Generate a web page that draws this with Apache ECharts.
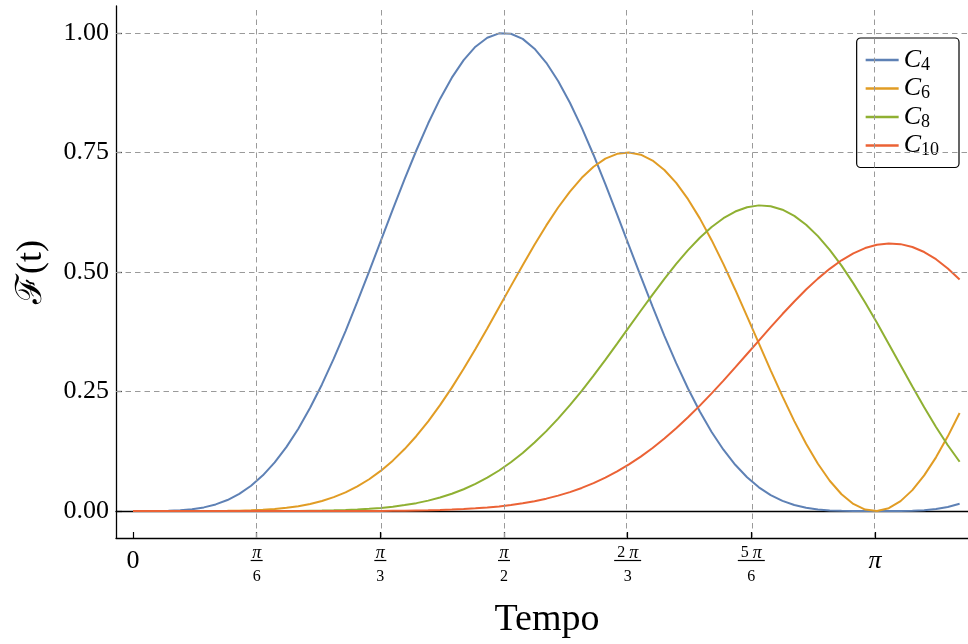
<!DOCTYPE html>
<html>
<head>
<meta charset="utf-8">
<script src="https://cdn.jsdelivr.net/npm/echarts@6/dist/echarts.min.js"></script>
<style>
  html, body { margin: 0; padding: 0; background: #fff; }
  #main { width: 968px; height: 644px; }
</style>
</head>
<body>
<div id="main"></div>
<script>
var chartDom = document.getElementById('main');
var myChart = echarts.init(chartDom);
var option;

// time samples (step 0.05)
var tVals = [0, 0.05, 0.1, 0.15, 0.2, 0.25, 0.3, 0.35, 0.4, 0.45, 0.5, 0.55, 0.6, 0.65, 0.7, 0.75,
  0.8, 0.85, 0.9, 0.95, 1.0, 1.05, 1.1, 1.15, 1.2, 1.25, 1.3, 1.35, 1.4, 1.45, 1.5, 1.55, 1.6, 1.65,
  1.7, 1.75, 1.8, 1.85, 1.9, 1.95, 2.0, 2.05, 2.1, 2.15, 2.2, 2.25, 2.3, 2.35, 2.4, 2.45, 2.5, 2.55,
  2.6, 2.65, 2.7, 2.75, 2.8, 2.85, 2.9, 2.95, 3.0, 3.05, 3.1, 3.15, 3.2, 3.25, 3.3, 3.35, 3.4, 3.45, 3.5];

var c4 = [0, 0, 0.0001, 0.0005, 0.0016, 0.0037, 0.0076, 0.0138, 0.0230, 0.0358, 0.0528, 0.0746,
  0.1017, 0.1341, 0.1722, 0.2159, 0.2648, 0.3186, 0.3765, 0.4378, 0.5014, 0.5661, 0.6308, 0.6941,
  0.7546, 0.8110, 0.8620, 0.9064, 0.9431, 0.9712, 0.9900, 0.9991, 0.9983, 0.9875, 0.9671, 0.9375,
  0.8994, 0.8539, 0.8019, 0.7447, 0.6836, 0.6200, 0.5552, 0.4906, 0.4273, 0.3665, 0.3092, 0.2562,
  0.2082, 0.1654, 0.1283, 0.0967, 0.0706, 0.0496, 0.0334, 0.0212, 0.0126, 0.0068, 0.0033, 0.0013,
  0.0004, 0.0001, 0, 0, 0, 0.0001, 0.0006, 0.0018, 0.0043, 0.0085, 0.0151];
var c6 = [0, 0, 0, 0, 0, 0, 0.0001, 0.0002, 0.0004, 0.0008, 0.0015, 0.0026, 0.0043, 0.0068, 0.0102,
  0.0149, 0.0210, 0.0290, 0.0390, 0.0515, 0.0665, 0.0844, 0.1054, 0.1296, 0.1570, 0.1876, 0.2214,
  0.2581, 0.2974, 0.3388, 0.3819, 0.4260, 0.4704, 0.5143, 0.5569, 0.5974, 0.6348, 0.6682, 0.6969,
  0.7201, 0.7370, 0.7471, 0.7500, 0.7453, 0.7331, 0.7133, 0.6862, 0.6523, 0.6121, 0.5665, 0.5164,
  0.4629, 0.4072, 0.3506, 0.2943, 0.2397, 0.1881, 0.1408, 0.0988, 0.0633, 0.0351, 0.0148, 0.0031,
  0.0001, 0.0060, 0.0207, 0.0437, 0.0745, 0.1123, 0.1562, 0.2051];
var c8 = [0, 0, 0, 0, 0, 0, 0, 0, 0, 0, 0, 0.0001, 0.0001, 0.0002, 0.0003, 0.0006, 0.0009, 0.0014,
  0.0021, 0.0032, 0.0046, 0.0065, 0.0091, 0.0124, 0.0165, 0.0218, 0.0282, 0.0361, 0.0455, 0.0567,
  0.0697, 0.0848, 0.1020, 0.1215, 0.1432, 0.1671, 0.1933, 0.2214, 0.2515, 0.2832, 0.3162, 0.3501,
  0.3845, 0.4189, 0.4528, 0.4857, 0.5168, 0.5456, 0.5716, 0.5940, 0.6125, 0.6264, 0.6355, 0.6393,
  0.6376, 0.6302, 0.6173, 0.5988, 0.5750, 0.5463, 0.5132, 0.4762, 0.4361, 0.3936, 0.3495, 0.3048,
  0.2604, 0.2171, 0.1759, 0.1376, 0.1030];
var c10 = [0, 0, 0, 0, 0, 0, 0, 0, 0, 0, 0, 0, 0, 0, 0, 0, 0, 0, 0.0001, 0.0001, 0.0002, 0.0003,
  0.0005, 0.0007, 0.0011, 0.0015, 0.0022, 0.0030, 0.0041, 0.0056, 0.0074, 0.0097, 0.0127, 0.0162,
  0.0206, 0.0259, 0.0322, 0.0396, 0.0483, 0.0583, 0.0698, 0.0828, 0.0975, 0.1139, 0.1319, 0.1516,
  0.1730, 0.1960, 0.2204, 0.2461, 0.2728, 0.3003, 0.3284, 0.3566, 0.3846, 0.4120, 0.4383, 0.4632,
  0.4861, 0.5066, 0.5244, 0.5390, 0.5500, 0.5569, 0.5597, 0.5582, 0.5522, 0.5417, 0.5267, 0.5074,
  0.4841];

var seriesNames = ['C4', 'C6', 'C8', 'C10'];
var seriesData = [c4, c6, c8, c10];
var colors = ['#5e81b5', '#e19c24', '#8fb032', '#eb6235'];

var xTickVals = [0, Math.PI / 6, Math.PI / 3, Math.PI / 2, 2 * Math.PI / 3, 5 * Math.PI / 6, Math.PI];
var xTickLabels = ['0', 'π/6', 'π/3', 'π/2', '2π/3', '5π/6', 'π'];
var yTickVals = [0, 0.25, 0.5, 0.75, 1];

var serif = 'Liberation Serif';

function xLabel(s) {
  if (s.indexOf('/') < 0) {
    return s === 'π' ? '{bigPi|π}' : '{big|' + s + '}';
  }
  var parts = s.split('/');
  var pre = parts[0].slice(0, -1);
  var num = (pre ? '{nd|' + pre + ' }' : '') + '{np|π}';
  var bar = pre ? 'barL' : 'barS';
  return num + '\n{' + bar + '|}\n{den|' + parts[1] + '}';
}

function pairs(ys) {
  return tVals.map(function (t, i) { return [t, ys[i]]; });
}

var series = [{
  type: 'line',
  data: [[0, 0]],
  symbol: 'none',
  lineStyle: { opacity: 0 },
  silent: true,
  z: 1,
  markLine: {
    silent: true,
    symbol: 'none',
    label: { show: false },
    lineStyle: { type: [5.5, 4], color: '#9a9a9a', width: 1 },
    emphasis: { disabled: true },
    data: xTickVals.slice(1).map(function (v) { return { xAxis: v }; })
      .concat(yTickVals.slice(1).map(function (v) { return { yAxis: v }; }))
  }
}];

seriesNames.forEach(function (name, i) {
  series.push({
    name: name,
    type: 'line',
    data: pairs(seriesData[i]),
    showSymbol: false,
    z: 3,
    color: colors[i],
    lineStyle: { width: 2, color: colors[i] }
  });
});

option = {
  animation: false,
  backgroundColor: '#fff',
  grid: { left: 116, right: 0, top: 6, bottom: 105 },
  legend: {
    data: seriesNames,
    orient: 'vertical',
    right: 9,
    top: 38,
    padding: [8, 20, 8, 9],
    itemGap: 0.5,
    itemWidth: 33,
    itemHeight: 2.5,
    icon: 'rect',
    borderColor: '#000',
    borderWidth: 1.2,
    borderRadius: 4,
    backgroundColor: '#fff',
    formatter: function (name) {
      return '{c|C}{s|' + name.slice(1) + '}';
    },
    textStyle: {
      rich: {
        c: { fontFamily: serif, fontStyle: 'italic', fontSize: 26, lineHeight: 26, color: '#000' },
        s: { fontFamily: serif, fontSize: 18, lineHeight: 16, padding: [10, 0, 0, 0], color: '#000' }
      }
    }
  },
  xAxis: [{
    type: 'value',
    min: -0.072,
    max: 3.5355,
    name: 'Tempo',
    nameLocation: 'middle',
    nameGap: 63,
    nameTextStyle: { fontFamily: serif, fontSize: 38, color: '#000', padding: [0, 0, 0, 10] },
    axisLine: { onZero: false, lineStyle: { color: '#000', width: 1.3 } },
    axisTick: { inside: true, length: 6, customValues: xTickVals, lineStyle: { color: '#000', width: 1.2 } },
    axisLabel: {
      customValues: xTickVals,
      margin: 8.5,
      color: '#000',
      formatter: function (v) {
        var best = 0;
        xTickVals.forEach(function (x, i) {
          if (Math.abs(x - v) < Math.abs(xTickVals[best] - v)) best = i;
        });
        return xLabel(xTickLabels[best]);
      },
      rich: {
        big: { fontFamily: serif, fontSize: 26, lineHeight: 30, color: '#000' },
        bigPi: { fontFamily: serif, fontStyle: 'italic', fontSize: 26, lineHeight: 30, color: '#000' },
        nd: { fontFamily: serif, fontSize: 16, lineHeight: 13, color: '#000' },
        np: { fontFamily: serif, fontStyle: 'italic', fontSize: 18, lineHeight: 13, color: '#000' },
        barS: { width: 12, height: 1.2, lineHeight: 2, backgroundColor: '#000' },
        barL: { width: 27, height: 1.2, lineHeight: 2, backgroundColor: '#000' },
        den: { fontFamily: serif, fontSize: 16, lineHeight: 31, color: '#000' }
      }
    },
    splitLine: { show: false }
  }, {
    type: 'value',
    position: 'top',
    min: -0.072,
    max: 3.5355,
    axisLine: { lineStyle: { color: '#000', width: 1.3 } },
    axisTick: { show: false },
    axisLabel: { show: false },
    splitLine: { show: false }
  }],
  yAxis: {
    type: 'value',
    min: -0.0564,
    max: 1.0563,
    name: 'ℱ(t)',
    nameLocation: 'middle',
    nameGap: 66,
    nameRotate: 90,
    nameTextStyle: { fontFamily: serif, fontSize: 36, color: '#000' },
    axisLine: { show: true, onZero: false, lineStyle: { color: '#000', width: 1.3 } },
    axisTick: { inside: true, length: 6, customValues: yTickVals, lineStyle: { color: '#000', width: 1.2 } },
    axisLabel: {
      customValues: yTickVals,
      margin: 7,
      fontFamily: serif,
      fontSize: 26,
      color: '#000',
      formatter: function (v) { return v.toFixed(2); }
    },
    splitLine: { show: false }
  },
  series: series
};

option && myChart.setOption(option);
</script>
</body>
</html>
